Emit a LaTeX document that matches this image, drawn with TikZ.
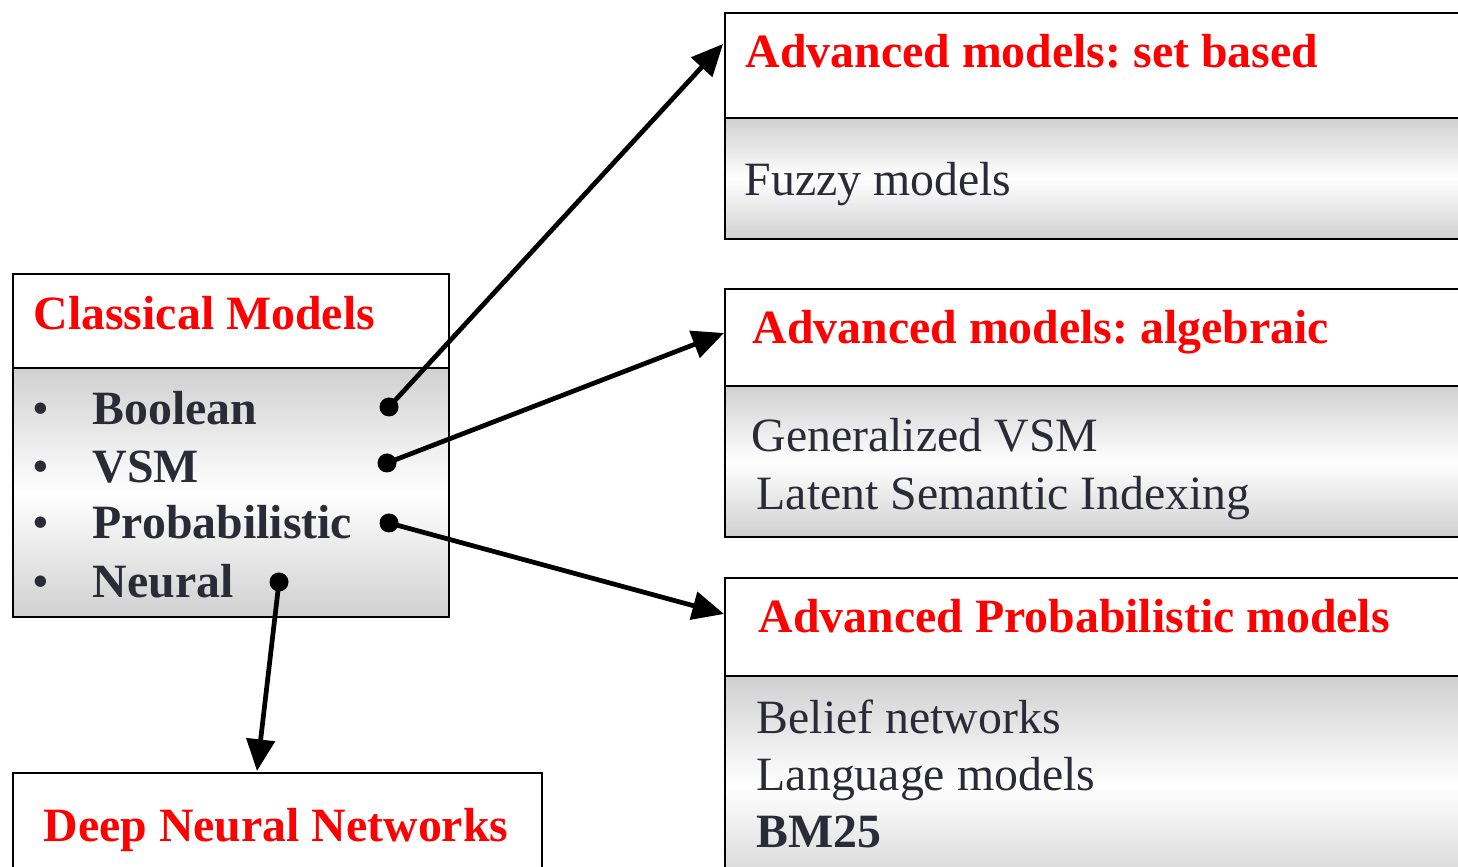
\documentclass[tikz,border=0pt]{standalone}
\usepackage{fontspec}
\setmainfont{Liberation Serif}
\usetikzlibrary{arrows.meta}
\definecolor{headred}{RGB}{255,0,0}
\definecolor{inkgray}{RGB}{43,43,56}
\definecolor{shadegray}{RGB}{208,208,208}

\begin{document}
\frenchspacing
\begin{tikzpicture}
 [
  >={Triangle[length=9pt,width=8pt]},
  head/.style  = {draw, fill=white, line width=.6pt, anchor=north west, inner sep=0pt},
  body/.style  = {draw, line width=.6pt, anchor=north west, inner sep=0pt,
                  top color=shadegray, bottom color=shadegray, middle color=white},
  title/.style = {anchor=base west, inner sep=0pt, text=headred,
                  font=\fontsize{13.6}{16.5}\selectfont\bfseries},
  item/.style  = {anchor=base west, inner sep=0pt, text=inkgray,
                  font=\fontsize{13.6}{16.5}\selectfont},
  point/.style = {circle, fill=black, inner sep=0pt, minimum size=.19cm},
  link/.style  = {->, line width=1.35pt},
 ]

 \useasboundingbox (0,0) rectangle (14.58,-8.67);
 \clip (0,0) rectangle (14.58,-8.67);

 % classical models
 \node (classBody) at (0.12,-3.67) [body, minimum width=4.36cm, minimum height=2.49cm] {};
 \node (classHead) at (0.12,-2.73) [head, minimum width=4.36cm, minimum height=0.94cm] {};
 \node (classTitle) at (0.33,-3.30) [title] {Classical Models};
 \foreach \name/\txt/\y in {boolean/Boolean/4.25, vsm/VSM/4.83, prob/Probabilistic/5.39, neural/Neural/5.98}
 {
  \node (\name Mark) at (0.32,-\y) [item] {\textbullet};
  \node (\name) at (0.92,-\y) [item, font=\fontsize{13.6}{16.5}\selectfont\bfseries] {\txt};
 }

 % the dots
 \node (booleanDot) at (3.89,-4.07) [point] {};
 \node (vsmDot)     at (3.87,-4.63) [point] {};
 \node (probDot)    at (3.89,-5.23) [point] {};
 \node (neuralDot)  at (2.79,-5.82) [point] {};

 % set based
 \node (setBody) at (7.24,-1.17) [body, minimum width=7.6cm, minimum height=1.21cm] {};
 \node (setHead) at (7.24,-0.12) [head, minimum width=7.6cm, minimum height=1.05cm] {};
 \node (setTitle) at (7.45,-0.68) [title] {Advanced models: set based};
 \node (fuzzy) at (7.44,-1.96) [item] {Fuzzy models};

 % algebraic
 \node (algBody) at (7.24,-3.85) [body, minimum width=7.6cm, minimum height=1.51cm] {};
 \node (algHead) at (7.24,-2.88) [head, minimum width=7.6cm, minimum height=0.97cm] {};
 \node (algTitle) at (7.52,-3.44) [title] {Advanced models: algebraic};
 \node (gvsm) at (7.51,-4.52) [item] {Generalized VSM};
 \node (lsi)  at (7.56,-5.10) [item] {Latent Semantic Indexing};

 % probabilistic
 \node (advBody) at (7.24,-6.75) [body, minimum width=7.6cm, minimum height=2.2cm] {};
 \node (advHead) at (7.24,-5.77) [head, minimum width=7.6cm, minimum height=0.98cm] {};
 \node (advTitle) at (7.58,-6.33) [title] {Advanced Probabilistic models};
 \node (belief) at (7.56,-7.34) [item] {Belief networks};
 \node (lang)   at (7.56,-7.91) [item] {Language models};
 \node (bm)     at (7.56,-8.48) [item, font=\fontsize{13.6}{16.5}\selectfont\bfseries] {BM25};

 % deep neural networks
 \node (deepBox) at (0.12,-7.72) [head, minimum width=5.29cm, minimum height=1.2cm] {};
 \node (deepTitle) at (0.43,-8.41) [title] {Deep Neural Networks};

 % the arrows
 \coordinate (setIn)  at (7.23,-0.44);
 \coordinate (algIn)  at (7.24,-3.33);
 \coordinate (advIn)  at (7.24,-6.14);
 \coordinate (deepIn) at (2.57,-7.71);
 \draw[link] (booleanDot.center) -- (setIn);
 \draw[link] (vsmDot.center) -- (algIn);
 \draw[link] (probDot.center) -- (advIn);
 \draw[link] (neuralDot.center) -- (deepIn);
\end{tikzpicture}
\end{document}
